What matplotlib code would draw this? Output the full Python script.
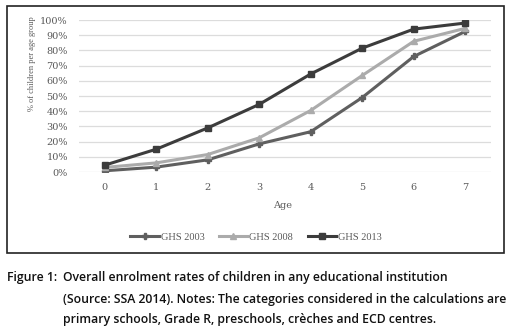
import matplotlib
matplotlib.use('Agg')
import matplotlib.pyplot as plt
from matplotlib.patches import Rectangle

# Data
ages = [0, 1, 2, 3, 4, 5, 6, 7]
ghs_2003 = [0.8, 3.2, 8.0, 18.5, 26.5, 49.0, 76.0, 92.5]
ghs_2008 = [3.0, 6.0, 11.5, 22.5, 40.5, 63.5, 86.0, 94.5]
ghs_2013 = [4.5, 15.0, 29.0, 44.5, 64.5, 81.5, 94.0, 98.0]
series_labels = ['GHS 2003', 'GHS 2008', 'GHS 2013']
y_ticks = list(range(0, 101, 10))

W, H = 513, 330
fig = plt.figure(figsize=(W / 100, H / 100), dpi=100)

# chart frame
fig.patches.append(Rectangle((7 / W, 1 - 253 / H), 497 / W, 247 / H,
                             transform=fig.transFigure, fill=False,
                             edgecolor='#222222', linewidth=1.2))

ax = fig.add_axes([79 / W, 1 - 172 / H, 412 / W, 152 / H])

tick_font = ['DejaVu Serif']
serif = ['Liberation Serif', 'DejaVu Serif']
grey = '#595959'

ax.plot(ages, ghs_2003, color='#5f5f5f', lw=2.2, marker='P', ms=4, label=series_labels[0])
ax.plot(ages, ghs_2008, color='#ababab', lw=2.2, marker='^', ms=4, label=series_labels[1])
ax.plot(ages, ghs_2013, color='#3c3c3c', lw=2.2, marker='s', ms=5, label=series_labels[2])

ax.set_xlim(-0.5, 7.5)
ax.set_ylim(0, 100)
ax.set_xticks(ages)
ax.set_yticks(y_ticks)
ax.set_yticklabels([f'{t}%' for t in y_ticks])
ax.grid(axis='y', color='#dcdcdc', lw=0.9)
ax.set_axisbelow(True)
for s in ax.spines.values():
    s.set_visible(False)
ax.tick_params(length=0, labelsize=7, labelcolor=grey, pad=8)
for lbl in ax.get_xticklabels() + ax.get_yticklabels():
    lbl.set_family(tick_font)

fig.text(32 / W, 1 - 64 / H, '% of children per age group', rotation=90,
         ha='center', va='center', fontsize=6, color=grey, family=serif)
fig.text(283 / W, 1 - 205 / H, 'Age', ha='center', va='center',
         fontsize=7, color=grey, family=tick_font)

leg = fig.legend(loc='center', bbox_to_anchor=(256 / W, 1 - 237 / H), ncol=3,
                 frameon=False, handlelength=2.7, handletextpad=0.2,
                 columnspacing=1.4, prop={'family': serif, 'size': 7.5})
for t in leg.get_texts():
    t.set_color(grey)

cap = dict(fontsize=8.85, family=['Open Sans', 'DejaVu Sans'], color='#111111',
           va='center', weight='semibold')
fig.text(7 / W, 1 - 278 / H, 'Figure 1:', **cap)
fig.text(63 / W, 1 - 278 / H, 'Overall enrolment rates of children in any educational institution', **cap)
fig.text(63 / W, 1 - 299 / H, '(Source: SSA 2014). Notes: The categories considered in the calculations are', **cap)
fig.text(63 / W, 1 - 319 / H, 'primary schools, Grade R, preschools, crèches and ECD centres.', **cap)

fig.savefig('out.png', dpi=100)
